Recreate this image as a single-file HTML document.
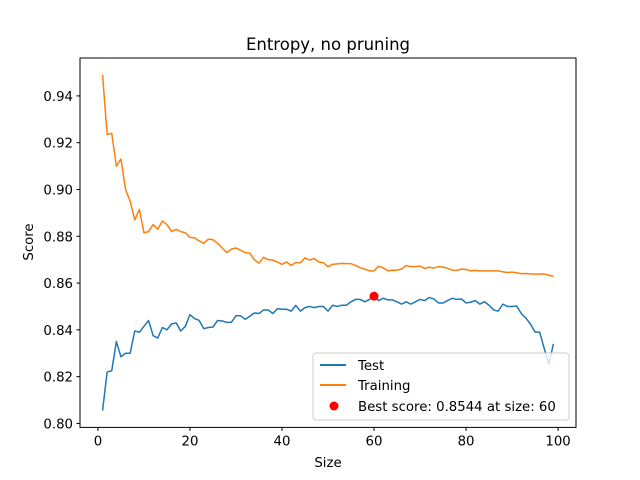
<!DOCTYPE html>
<html><head><meta charset="utf-8"><style>body{margin:0;background:#fff}svg{display:block;font-family:"DejaVu Sans","Liberation Sans",sans-serif}</style></head>
<body>
<svg id="chart" width="640" height="480" xmlns="http://www.w3.org/2000/svg">
<rect width="640" height="480" fill="#fff"/>
<text x="328" y="50" font-size="16.5" text-anchor="middle">Entropy, no pruning</text>
<g id="plot"></g>
<rect x="80" y="58" width="496" height="369.4" fill="none" stroke="#000" stroke-width="1"/>
<text x="328" y="467" font-size="13.3" text-anchor="middle">Size</text>
<text x="0" y="0" font-size="13.3" text-anchor="middle" transform="translate(33,242) rotate(-90)">Score</text>
<g>
<rect x="313" y="353" width="256" height="67" rx="3" fill="#fff" fill-opacity="0.8" stroke="#ccc"/>
<line x1="320" y1="365" x2="346" y2="365" stroke="#1f77b4" stroke-width="2"/>
<text x="358" y="370" font-size="13.3">Test</text>
<line x1="320" y1="385" x2="346" y2="385" stroke="#ff7f0e" stroke-width="2"/>
<text x="358" y="390" font-size="13.3">Training</text>
<circle cx="334" cy="406" r="4.5" fill="red"/>
<text x="358" y="411" font-size="13.3">Best score: 0.8544 at size: 60</text>
</g>
</svg>
<script>
const sizes = Array.from({length:99},(_,i)=>i+1);
const training = [0.949,0.9235,0.924,0.910,0.913,0.900,0.895,0.887,0.8915,0.8815,0.882,0.885,0.883,0.8865,0.885,0.882,0.883,0.882,0.8815,0.8795,0.8793,0.878,0.877,0.8788,0.8785,0.877,0.875,0.873,0.8745,0.875,0.874,0.873,0.8728,0.870,0.8685,0.871,0.870,0.8698,0.869,0.868,0.869,0.8675,0.8688,0.8686,0.8708,0.8698,0.8705,0.869,0.8687,0.867,0.868,0.8682,0.8684,0.8683,0.8683,0.8675,0.8665,0.866,0.8652,0.8652,0.8672,0.8665,0.8652,0.8655,0.8655,0.866,0.8675,0.867,0.867,0.8673,0.8662,0.8668,0.8664,0.867,0.8668,0.8663,0.8655,0.8654,0.866,0.8658,0.8652,0.8654,0.8652,0.8652,0.8652,0.8652,0.8652,0.8648,0.8645,0.8647,0.8644,0.864,0.8641,0.8639,0.8638,0.8638,0.8639,0.8634,0.8628];
const test = [0.8055,0.822,0.8225,0.835,0.8285,0.830,0.830,0.8395,0.839,0.8415,0.844,0.8375,0.8365,0.841,0.840,0.8425,0.843,0.8395,0.8415,0.8465,0.8448,0.844,0.8405,0.841,0.8412,0.844,0.8438,0.8432,0.8432,0.846,0.846,0.8445,0.8458,0.8472,0.847,0.8485,0.8485,0.847,0.849,0.8488,0.8488,0.848,0.8505,0.848,0.8495,0.850,0.8495,0.850,0.850,0.848,0.8505,0.850,0.8505,0.8505,0.852,0.853,0.853,0.852,0.853,0.8544,0.8525,0.8535,0.8528,0.8528,0.852,0.851,0.852,0.851,0.852,0.853,0.8525,0.8538,0.8532,0.8515,0.8515,0.8525,0.8535,0.853,0.8532,0.8515,0.8518,0.8525,0.851,0.852,0.8505,0.8485,0.848,0.851,0.850,0.850,0.8502,0.847,0.845,0.8425,0.839,0.839,0.832,0.8255,0.834];
const bestSize = [60];
const bestScore = [0.8544];
const xTicks = [0,20,40,60,80,100];
const yTicks = [0.80,0.82,0.84,0.86,0.88,0.90,0.92,0.94];

const NS="http://www.w3.org/2000/svg";
const L=80,R=576,T=58,B=427.4;
const xmin=-3.9,xmax=103.9,ymin=0.7983,ymax=0.9562;
const xs=v=>L+(v-xmin)/(xmax-xmin)*(R-L);
const ys=v=>B-(v-ymin)/(ymax-ymin)*(B-T);
const g=document.getElementById('plot');
function mk(tag,attrs){const e=document.createElementNS(NS,tag);for(const k in attrs)e.setAttribute(k,attrs[k]);g.appendChild(e);return e;}
xTicks.forEach(t=>{
  const l=mk('line',{x1:xs(t),x2:xs(t),y1:B,y2:B+3.5,stroke:'#000'});
  
  
  const tx=mk('text',{x:xs(t),y:B+18,'font-size':13.3,'text-anchor':'middle'});
  tx.textContent=t;
  
  
});
yTicks.forEach(t=>{
  const l=mk('line',{x1:L-3.5,x2:L,y1:ys(t),y2:ys(t),stroke:'#000'});
  
  
  const tx=mk('text',{x:L-7,y:ys(t)+5,'font-size':13.3,'text-anchor':'end'});
  tx.textContent=t.toFixed(2);
  
  
});
function line(vals,color,name){
  const p=mk('polyline',{points:vals.map((v,i)=>xs(sizes[i])+','+ys(v)).join(' '),fill:'none',stroke:color,'stroke-width':1.5,'stroke-linejoin':'round'});
  
  
}
line(test,'#1f77b4','test-line');
line(training,'#ff7f0e','training-line');
const c=mk('circle',{cx:xs(bestSize[0]),cy:ys(bestScore[0]),r:4.5,fill:'red'});


</script>
</body></html>
